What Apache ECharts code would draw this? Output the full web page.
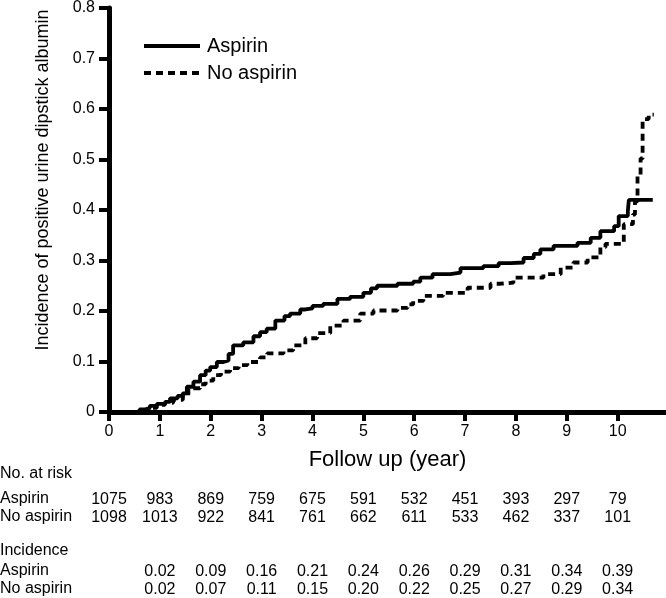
<!DOCTYPE html>
<html>
<head>
<meta charset="utf-8">
<script src="https://cdn.jsdelivr.net/npm/echarts@6/dist/echarts.min.js"></script>
<style>
  html, body { margin: 0; padding: 0; background: #fff; }
  #chart { width: 666px; height: 598px; }
</style>
</head>
<body>
<div id="chart"></div>
<script>
// 累积发生率曲线
const aspirinT = [0, 0.45, 0.6, 0.7, 0.8, 0.94, 1.1, 1.2, 1.35, 1.45, 1.53, 1.66, 1.79, 1.9, 1.99, 2.12, 2.25, 2.35, 2.44, 2.64, 2.84, 2.97, 3.1, 3.27, 3.45, 3.56, 3.76, 3.86, 4.0, 4.21, 4.49, 4.74, 5.0, 5.15, 5.27, 5.67, 5.98, 6.12, 6.36, 6.71, 6.91, 7.36, 7.66, 7.89, 8.15, 8.35, 8.48, 8.74, 9.21, 9.47, 9.66, 9.93, 10.02, 10.2, 10.22, 10.69];
const aspirinV = [0, 0, 0.005, 0.008, 0.012, 0.016, 0.02, 0.027, 0.032, 0.037, 0.05, 0.06, 0.073, 0.082, 0.089, 0.099, 0.102, 0.115, 0.132, 0.138, 0.15, 0.158, 0.165, 0.181, 0.19, 0.195, 0.203, 0.205, 0.21, 0.214, 0.224, 0.228, 0.236, 0.245, 0.25, 0.254, 0.258, 0.266, 0.273, 0.276, 0.285, 0.289, 0.295, 0.296, 0.305, 0.313, 0.322, 0.329, 0.335, 0.345, 0.358, 0.368, 0.388, 0.398, 0.42, 0.42];
const noAspirinT = [0, 0.6, 0.8, 0.94, 1.1, 1.26, 1.45, 1.56, 1.79, 1.9, 2.05, 2.2, 2.38, 2.55, 2.72, 2.97, 3.11, 3.43, 3.62, 3.86, 4.09, 4.35, 4.61, 4.94, 5.2, 5.67, 5.87, 5.98, 6.18, 6.57, 7.05, 7.5, 7.7, 7.95, 8.54, 8.88, 9.13, 9.41, 9.66, 9.76, 10.02, 10.12, 10.3, 10.34, 10.39, 10.45, 10.49, 10.61, 10.71];
const noAspirinV = [0, 0, 0.008, 0.014, 0.018, 0.024, 0.03, 0.047, 0.055, 0.062, 0.073, 0.08, 0.087, 0.093, 0.099, 0.108, 0.116, 0.122, 0.132, 0.146, 0.156, 0.171, 0.181, 0.195, 0.201, 0.206, 0.213, 0.22, 0.23, 0.236, 0.246, 0.254, 0.256, 0.266, 0.273, 0.286, 0.296, 0.306, 0.326, 0.333, 0.333, 0.372, 0.391, 0.417, 0.47, 0.502, 0.58, 0.589, 0.589];

// 风险人数与发生率表
const years = [0, 1, 2, 3, 4, 5, 6, 7, 8, 9, 10];
const riskAspirin = [1075, 983, 869, 759, 675, 591, 532, 451, 393, 297, 79];
const riskNoAspirin = [1098, 1013, 922, 841, 761, 662, 611, 533, 462, 337, 101];
const incAspirin = ['', '0.02', '0.09', '0.16', '0.21', '0.24', '0.26', '0.29', '0.31', '0.34', '0.39'];
const incNoAspirin = ['', '0.02', '0.07', '0.11', '0.15', '0.20', '0.22', '0.25', '0.27', '0.29', '0.34'];

const FONT = 'Liberation Sans, Arial, sans-serif';
const chart = echarts.init(document.getElementById('chart'));

// 表格行：用额外的 x 轴放在图下方
function tableAxis(values, offset) {
    return {
        type: 'value', min: 0, max: 10.95, position: 'bottom', offset: offset,
        axisLine: { show: false }, axisTick: { show: false }, splitLine: { show: false },
        axisLabel: {
            customValues: years, margin: 0, color: '#000', fontSize: 16, fontFamily: FONT,
            formatter: v => String(values[Math.round(v)])
        }
    };
}

function rowLabel(text, top) {
    return { type: 'text', left: 0, top: top, style: { text: text, fontSize: 16, fontFamily: FONT, fill: '#000' } };
}

const option = {
    animation: false,
    backgroundColor: '#fff',
    grid: { left: 109, right: 0, top: 6, bottom: 186 },
    legend: {
        orient: 'vertical', left: 137, top: 31,
        itemWidth: 56, itemHeight: 20, itemGap: 7,
        itemStyle: { opacity: 0 },
        lineStyle: { width: 4 },
        textStyle: { fontSize: 20, fontFamily: FONT, color: '#000', padding: [0, 0, 0, 2] },
        data: ['Aspirin', 'No aspirin']
    },
    xAxis: [
        {
            type: 'value', min: 0, max: 10.95,
            name: 'Follow up (year)', nameLocation: 'middle', nameGap: 37,
            nameTextStyle: { fontSize: 22, fontFamily: FONT, color: '#000' },
            axisLine: { lineStyle: { color: '#000', width: 5 } },
            axisTick: { customValues: years, length: 9, lineStyle: { color: '#000', width: 4 } },
            axisLabel: { customValues: years, color: '#000', fontSize: 16, fontFamily: FONT, margin: 12 },
            splitLine: { show: false }
        },
        tableAxis(riskAspirin, 80),
        tableAxis(riskNoAspirin, 98),
        tableAxis(incAspirin, 152),
        tableAxis(incNoAspirin, 170)
    ],
    yAxis: {
        type: 'value', min: 0, max: 0.8, interval: 0.1,
        axisLine: { show: true, lineStyle: { color: '#000', width: 5 } },
        axisTick: { show: true, length: 10, lineStyle: { color: '#000', width: 4 } },
        axisLabel: { color: '#000', fontSize: 16, fontFamily: FONT, margin: 14 },
        splitLine: { show: false }
    },
    graphic: [
        { type: 'text', x: 43, y: 180, rotation: Math.PI / 2,
          style: { text: 'Incidence of positive urine dipstick albumin', fontSize: 18, fontFamily: FONT,
                   fill: '#000', align: 'center', verticalAlign: 'middle' } },
        rowLabel('No. at risk', 466),
        rowLabel('Aspirin', 491),
        rowLabel('No aspirin', 509),
        rowLabel('Incidence', 543),
        rowLabel('Aspirin', 563),
        rowLabel('No aspirin', 581)
    ],
    series: [
        {
            name: 'Aspirin', type: 'line', step: 'end', symbol: 'none',
            data: aspirinT.map((t, i) => [t, aspirinV[i]]),
            lineStyle: { color: '#000', width: 3.8 }, itemStyle: { color: '#000' }
        },
        {
            name: 'No aspirin', type: 'line', step: 'end', symbol: 'none',
            data: noAspirinT.map((t, i) => [t, noAspirinV[i]]),
            lineStyle: { color: '#000', width: 3.8, type: [7, 5] }, itemStyle: { color: '#000' }
        }
    ]
};

chart.setOption(option);
</script>
</body>
</html>
